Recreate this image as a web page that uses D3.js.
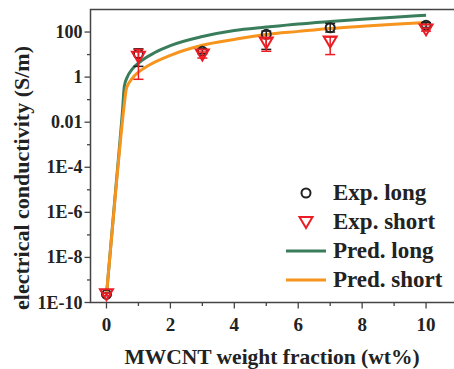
<!DOCTYPE html>
<html lang="en">
<head>
    <meta charset="UTF-8">
    <title>MWCNT conductivity</title>
    <style>
        body { margin: 0; background: #fff; }
        svg { display: block; }
        text { font-family: 'Liberation Serif', 'Times New Roman', serif; font-weight: bold; fill: #222; }
    </style>
    <script src="https://d3js.org/d3.v7.min.js"></script>
</head>
<body>
    <div id="chart"></div>
    <script>
        const width = 454;
        const height = 369;

        // measured points (wt%, S/m)
        const expX = [0, 1, 3, 5, 7, 10];
        const longY = [2.3e-10, 11, 14, 79, 155, 200];
        const longLo = [2.0e-10, 3.0, 11, 17, 100, 160];
        const longHi = [2.6e-10, 18, 18, 110, 240, 260];
        const shortY = [2.3e-10, 8, 10, 34, 38, 131];
        const shortLo = [2.0e-10, 0.8, 7, 14, 10, 110];
        const shortHi = [2.6e-10, 17, 13, 50, 60, 150];

        // model predictions
        const predX = [0, 0.3, 0.5, 0.56, 0.65, 0.8, 1, 1.5, 2, 3, 4, 5, 6, 7, 8, 9, 10];
        const predLong = [2.2e-10, 1.6e-5, 0.03, 0.4, 1.0, 2.2, 4.2, 12, 25, 63, 117, 166, 229, 295, 372, 457, 562];
        const predShortX = [0, 0.3, 0.55, 0.62, 0.72, 0.85, 1, 1.3, 2, 3, 4, 5, 6, 7, 8, 9, 10];
        const predShort = [2.2e-10, 1.3e-5, 0.05, 0.3, 0.6, 1.05, 1.65, 3.2, 9.3, 26, 47, 78, 107, 145, 182, 224, 263];

        const xTicks = [0, 2, 4, 6, 8, 10];
        const xMinor = [1, 3, 5, 7, 9, 11];
        const yTicks = [1e-10, 1e-8, 1e-6, 1e-4, 1e-2, 1, 100];
        const yTickLabels = ["1E-10", "1E-8", "1E-6", "1E-4", "0.01", "1", "100"];
        const yMinor = [1e-9, 1e-7, 1e-5, 1e-3, 1e-1, 10];

        const legendLabels = ["Exp. long", "Exp. short", "Pred. long", "Pred. short"];

        const green = "#3a7d5c";
        const orange = "#f7941d";
        const red = "#ec1c24";

        const svg = d3.select("#chart").append("svg")
            .attr("width", width)
            .attr("height", height);

        const plotLeft = 90.5, plotTop = 9.5, plotBottom = 302.5, plotRight = 474;

        const x = d3.scaleLinear().domain([-0.5, 11.5]).range([plotLeft, plotRight]);
        const y = d3.scaleLog().domain([1e-10, 1e3]).range([plotBottom, plotTop]);

        // frame (right edge falls outside the picture)
        svg.append("path")
            .attr("d", `M${plotRight},${plotTop}H${plotLeft}V${plotBottom}H${plotRight}`)
            .attr("fill", "none")
            .attr("stroke", "#444")
            .attr("stroke-width", 1.5);

        // x axis ticks
        svg.selectAll(".xmaj").data(xTicks).join("line")
            .attr("x1", d => x(d)).attr("x2", d => x(d))
            .attr("y1", plotBottom).attr("y2", plotBottom + 6)
            .attr("stroke", "#444").attr("stroke-width", 1.3);
        svg.selectAll(".xmin").data(xMinor).join("line")
            .attr("x1", d => x(d)).attr("x2", d => x(d))
            .attr("y1", plotBottom).attr("y2", plotBottom + 3.5)
            .attr("stroke", "#444").attr("stroke-width", 1.3);
        svg.selectAll(".xlab").data(xTicks).join("text")
            .attr("x", d => x(d))
            .attr("y", plotBottom + 28)
            .attr("text-anchor", "middle")
            .attr("font-size", 19)
            .text(d => d);

        // y axis ticks
        svg.selectAll(".ymaj").data(yTicks).join("line")
            .attr("x1", plotLeft - 6).attr("x2", plotLeft)
            .attr("y1", d => y(d)).attr("y2", d => y(d))
            .attr("stroke", "#444").attr("stroke-width", 1.3);
        svg.selectAll(".ymin").data(yMinor).join("line")
            .attr("x1", plotLeft - 3.5).attr("x2", plotLeft)
            .attr("y1", d => y(d)).attr("y2", d => y(d))
            .attr("stroke", "#444").attr("stroke-width", 1.3);
        svg.selectAll(".ylab").data(yTicks).join("text")
            .attr("x", plotLeft - 8)
            .attr("y", d => y(d) + 6)
            .attr("text-anchor", "end")
            .attr("font-size", 18)
            .text((d, i) => yTickLabels[i]);

        // axis titles
        svg.append("text")
            .attr("x", 272)
            .attr("y", 364)
            .attr("text-anchor", "middle")
            .attr("font-size", 21.5)
            .text("MWCNT weight fraction (wt%)");
        svg.append("text")
            .attr("transform", "translate(29,178) rotate(-90)")
            .attr("text-anchor", "middle")
            .attr("font-size", 22)
            .text("electrical conductivity (S/m)");

        // prediction lines
        const line = d3.line().curve(d3.curveMonotoneX);
        svg.append("path")
            .attr("d", line(predX.map((d, i) => [x(d), y(predLong[i])])))
            .attr("fill", "none").attr("stroke", green).attr("stroke-width", 3);
        svg.append("path")
            .attr("d", line(predShortX.map((d, i) => [x(d), y(predShort[i])])))
            .attr("fill", "none").attr("stroke", orange).attr("stroke-width", 3);

        // error bars
        function errorBars(lo, hi, color) {
            const g = svg.append("g").attr("stroke", color).attr("stroke-width", 1.5);
            expX.forEach((d, i) => {
                const cx = x(d);
                g.append("line").attr("x1", cx).attr("x2", cx).attr("y1", y(lo[i])).attr("y2", y(hi[i]));
                g.append("line").attr("x1", cx - 5).attr("x2", cx + 5).attr("y1", y(lo[i])).attr("y2", y(lo[i]));
                g.append("line").attr("x1", cx - 5).attr("x2", cx + 5).attr("y1", y(hi[i])).attr("y2", y(hi[i]));
            });
        }

        const triangle = "M-6.5,-5L6.5,-5L0,6Z";

        errorBars(longLo, longHi, "#222");
        svg.selectAll(".long").data(expX).join("circle")
            .attr("cx", d => x(d))
            .attr("cy", (d, i) => y(longY[i]))
            .attr("r", 4.5)
            .attr("fill", "none")
            .attr("stroke", "#222")
            .attr("stroke-width", 2);

        errorBars(shortLo, shortHi, red);
        svg.selectAll(".short").data(expX).join("path")
            .attr("d", triangle)
            .attr("transform", (d, i) => `translate(${x(d)},${y(shortY[i])})`)
            .attr("fill", "none")
            .attr("stroke", red)
            .attr("stroke-width", 2);

        // legend
        const legend = svg.append("g");
        const rowY = [193, 222, 251, 280];
        legendLabels.forEach((label, i) => {
            legend.append("text")
                .attr("x", 333)
                .attr("y", rowY[i] + 7)
                .attr("font-size", 23)
                .text(label);
        });
        legend.append("circle").attr("cx", 306).attr("cy", rowY[0]).attr("r", 4.5)
            .attr("fill", "none").attr("stroke", "#222").attr("stroke-width", 2);
        legend.append("path").attr("d", triangle).attr("transform", `translate(306,${rowY[1]})`)
            .attr("fill", "none").attr("stroke", red).attr("stroke-width", 2);
        legend.append("line").attr("x1", 286).attr("x2", 326).attr("y1", rowY[2]).attr("y2", rowY[2])
            .attr("stroke", green).attr("stroke-width", 3);
        legend.append("line").attr("x1", 286).attr("x2", 326).attr("y1", rowY[3]).attr("y2", rowY[3])
            .attr("stroke", orange).attr("stroke-width", 3);
    </script>
</body>
</html>
